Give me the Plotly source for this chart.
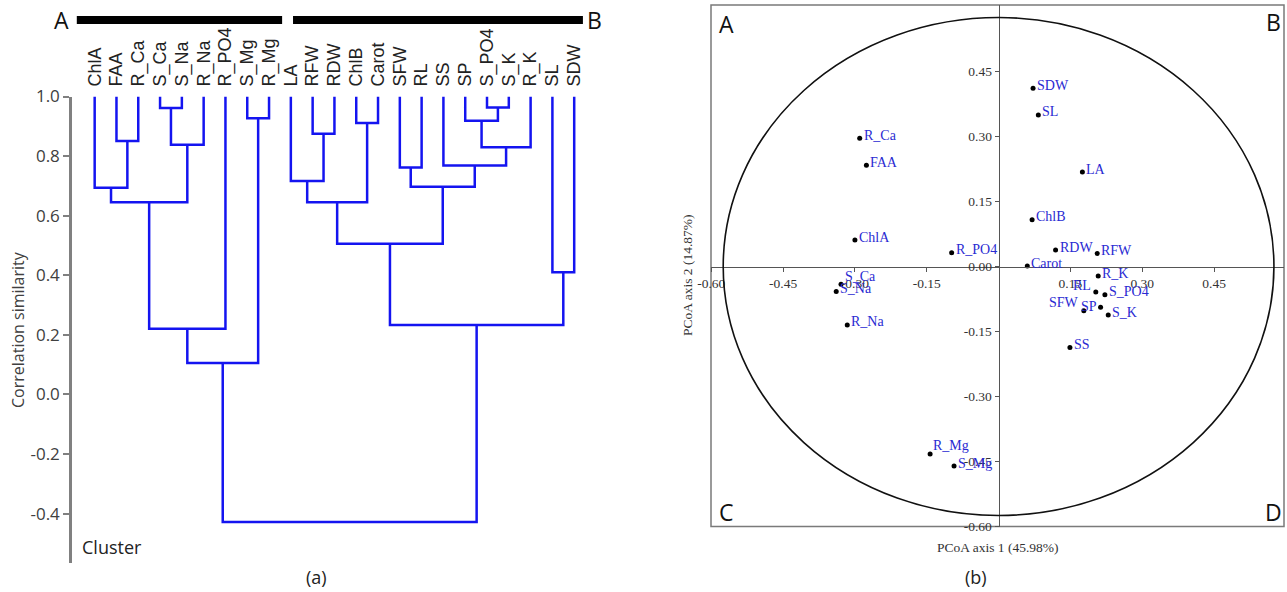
import plotly.graph_objects as go

# ---------------- data: dendrogram (a) ----------------
leaves = ["ChlA", "FAA", "R_Ca", "S_Ca", "S_Na", "R_Na", "R_PO4", "S_Mg", "R_Mg",
          "LA", "RFW", "RDW", "ChlB", "Carot", "SFW", "RL", "SS", "SP", "S_PO4",
          "S_K", "R_K", "SL", "SDW"]
merge_left = ["FAA", "S_Ca", "m1", "ChlA", "m3", "m4", "S_Mg", "m5", "RFW", "LA", "ChlB",
              "m9", "SFW", "S_PO4", "SP", "m14", "SS", "m12", "m11", "SL", "m18", "m7"]
merge_right = ["R_Ca", "S_Na", "R_Na", "m0", "m2", "R_PO4", "R_Mg", "m6", "RDW", "m8", "Carot",
               "m10", "RL", "S_K", "m13", "R_K", "m15", "m16", "m17", "SDW", "m19", "m20"]
merge_height = [0.851, 0.961, 0.838, 0.694, 0.645, 0.220, 0.927, 0.105, 0.875, 0.716, 0.911,
                0.645, 0.762, 0.963, 0.919, 0.830, 0.768, 0.697, 0.506, 0.410, 0.233, -0.428]
y_ticks_a = [-0.4, -0.2, 0.0, 0.2, 0.4, 0.6, 0.8, 1.0]
cluster_A = leaves[:9]
cluster_B = leaves[9:]

# ---------------- data: PCoA (b) ----------------
pc_labels = ["SDW", "SL", "R_Ca", "FAA", "LA", "ChlB", "ChlA", "R_PO4", "RDW", "RFW", "Carot",
             "R_K", "RL", "S_PO4", "SFW", "SP", "S_K", "SS", "S_Ca", "S_Na", "R_Na", "R_Mg", "S_Mg"]
pc1 = [0.072, 0.083, -0.290, -0.276, 0.175, 0.070, -0.300, -0.098, 0.119, 0.206, 0.060,
       0.208, 0.203, 0.222, 0.178, 0.213, 0.229, 0.149, -0.329, -0.339, -0.316, -0.143, -0.093]
pc2 = [0.412, 0.350, 0.296, 0.234, 0.218, 0.108, 0.061, 0.032, 0.038, 0.030, 0.001,
       -0.022, -0.059, -0.065, -0.102, -0.094, -0.112, -0.187, -0.041, -0.058, -0.135, -0.433, -0.461]
x_ticks_b = [-0.60, -0.45, -0.30, -0.15, 0.15, 0.30, 0.45]
y_ticks_b = [-0.60, -0.45, -0.30, -0.15, 0.00, 0.15, 0.30, 0.45]
circle_r = 0.575

W, H = 1287, 592
BLUE_TREE = "#1414f0"
BLUE_LBL = "#2a2ad2"

# ---------------- build dendrogram paths ----------------
pos = {name: i for i, name in enumerate(leaves)}
hgt = {name: 1.0 for name in leaves}
tx, ty = [], []
for k, (a, b, h) in enumerate(zip(merge_left, merge_right, merge_height)):
    xa, xb = pos[a], pos[b]
    tx += [xa, xa, xb, xb, None]
    ty += [hgt[a], h, h, hgt[b], None]
    pos["m%d" % k] = (xa + xb) / 2
    hgt["m%d" % k] = h

fig = go.Figure()
fig.add_trace(go.Scatter(x=tx, y=ty, mode="lines", line=dict(color=BLUE_TREE, width=2.5),
                         xaxis="x", yaxis="y", hoverinfo="skip", showlegend=False))

fig.add_trace(go.Scatter(x=pc1, y=pc2, mode="markers", marker=dict(color="black", size=5),
                         xaxis="x2", yaxis="y2", text=pc_labels, showlegend=False,
                         cliponaxis=False))

# ---------------- layout ----------------
ya_lo, ya_hi = -0.565, 1.0
xb_lo, xb_hi = -0.6005, 0.596
yb_lo, yb_hi = -0.6005, 0.604
xd2 = [711 / W, 1284 / W]
yd2 = [1 - 526.5 / H, 1 - 5 / H]
pos_x_axis_b = yd2[0] + (0 - yb_lo) / (yb_hi - yb_lo) * (yd2[1] - yd2[0])
pos_y_axis_b = xd2[0] + (0 - xb_lo) / (xb_hi - xb_lo) * (xd2[1] - xd2[0])

serif = "Liberation Serif, Times New Roman, serif"
sans = "Open Sans, Liberation Sans, sans-serif"

fig.update_layout(
    width=W, height=H, margin=dict(l=0, r=0, t=0, b=0, autoexpand=False),
    plot_bgcolor="white", paper_bgcolor="white", showlegend=False,
    xaxis=dict(domain=[72 / W, 596 / W], range=[-1.04, 23.0], side="top", automargin=False,
               tickmode="array", tickvals=list(range(len(leaves))), ticktext=leaves,
               tickangle=-90, ticks="", showline=False, showgrid=False, zeroline=False,
               ticklabelstandoff=9,
               tickfont=dict(family="Liberation Sans, Arial, sans-serif", size=18, color="#222")),
    yaxis=dict(domain=[1 - 562.7 / H, 1 - 96.5 / H], range=[ya_lo, ya_hi], anchor="x",
               automargin=False,
               tickmode="array", tickvals=y_ticks_a, ticktext=["%.1f" % v for v in y_ticks_a],
               ticks="outside", ticklen=6, tickwidth=1.5, tickcolor="#808080",
               showline=True, linecolor="#808080", linewidth=2.5,
               showgrid=False, zeroline=False,
               tickfont=dict(family=sans, size=17, color="#404040")),
    xaxis2=dict(domain=xd2, range=[xb_lo, xb_hi], anchor="free", position=pos_x_axis_b,
                automargin=False,
                tickmode="array", tickvals=x_ticks_b, ticktext=["%.2f" % v for v in x_ticks_b],
                ticks="outside", ticklen=4, tickcolor="#555", tickwidth=1,
                showline=True, linecolor="#555", linewidth=1,
                showgrid=False, zeroline=False,
                tickfont=dict(family=serif, size=13.5, color="#333")),
    yaxis2=dict(domain=yd2, range=[yb_lo, yb_hi], anchor="free", position=pos_y_axis_b,
                automargin=False,
                tickmode="array", tickvals=y_ticks_b, ticktext=["%.2f" % v for v in y_ticks_b],
                ticks="outside", ticklen=4, tickcolor="#555", tickwidth=1,
                showline=True, linecolor="#555", linewidth=1,
                showgrid=False, zeroline=False,
                tickfont=dict(family=serif, size=13.5, color="#333")),
)

shapes = []
# cluster bars A / B
bar_y = 1 - 20 / H
shapes.append(dict(type="line", xref="x", yref="paper",
                   x0=pos[cluster_A[0]] - 0.82, x1=pos[cluster_A[-1]] + 0.6, y0=bar_y, y1=bar_y,
                   line=dict(color="black", width=8)))
shapes.append(dict(type="line", xref="x", yref="paper",
                   x0=pos[cluster_B[0]] + 0.1, x1=pos[cluster_B[-1]] + 0.4, y0=bar_y, y1=bar_y,
                   line=dict(color="black", width=8)))
# frame (b)
shapes.append(dict(type="rect", xref="x2 domain", yref="y2 domain", x0=0, x1=1, y0=0, y1=1,
                   line=dict(color="#7a7a7a", width=1.5), layer="below"))
# circle
shapes.append(dict(type="circle", xref="x2", yref="y2",
                   x0=-circle_r, x1=circle_r, y0=-circle_r, y1=circle_r,
                   line=dict(color="#111", width=1.6)))
fig.update_layout(shapes=shapes)


def note(text, x, y, size, family=sans, color="#222", angle=0, xref="paper", yref="paper"):
    return dict(text=text, xref=xref, yref=yref, x=x, y=y, xanchor="center", yanchor="middle",
                textangle=angle, showarrow=False, font=dict(family=family, size=size, color=color))


ann = []
ann.append(note("A", 61 / W, bar_y, 23, color="#111"))
ann.append(note("B", pos[cluster_B[-1]] + 0.95, bar_y, 23, color="#111", xref="x"))
ann.append(note("Correlation similarity", 18 / W, 1 - 330 / H, 16, color="#404040", angle=-90))
ann.append(dict(text="Cluster", xref="paper", yref="paper", x=80 / W, y=1 - 547 / H,
                xanchor="left", yanchor="middle", showarrow=False,
                font=dict(family=sans, size=18, color="#222")))
ann.append(note("(a)", 316 / W, 1 - 577 / H, 18))
ann.append(note("(b)", 976 / W, 1 - 577 / H, 18))
ann.append(note("PCoA axis 1 (45.98%)", 998 / W, 1 - 547 / H, 13.5, family=serif, color="#333"))
ann.append(note("PCoA axis 2 (14.87%)", 688 / W, 1 - 275 / H, 13.5, family=serif, color="#333",
                angle=-90))
for t, px, py in [("A", 726, 24), ("B", 1273, 22), ("C", 726, 512), ("D", 1273, 512)]:
    ann.append(note(t, px / W, 1 - py / H, 23, color="#111"))

special = {"S_Ca": ("left", 2, 8), "RL": ("right", -3, 7), "SFW": ("right", -3, 8),
           "SP": ("right", -2, 1), "R_Mg": ("left", 1, 8)}
for lab, xx, yy in zip(pc_labels, pc1, pc2):
    anc, xs, ys = special.get(lab, ("left", 2, 3))
    ann.append(dict(text=lab, xref="x2", yref="y2", x=xx, y=yy, xanchor=anc, yanchor="middle",
                    xshift=xs, yshift=ys, showarrow=False,
                    font=dict(family=serif, size=14, color=BLUE_LBL)))
fig.update_layout(annotations=ann)

fig.write_html("out.html", config={"displayModeBar": False},
               post_script="document.body.style.margin='0';document.body.style.padding='0';")
